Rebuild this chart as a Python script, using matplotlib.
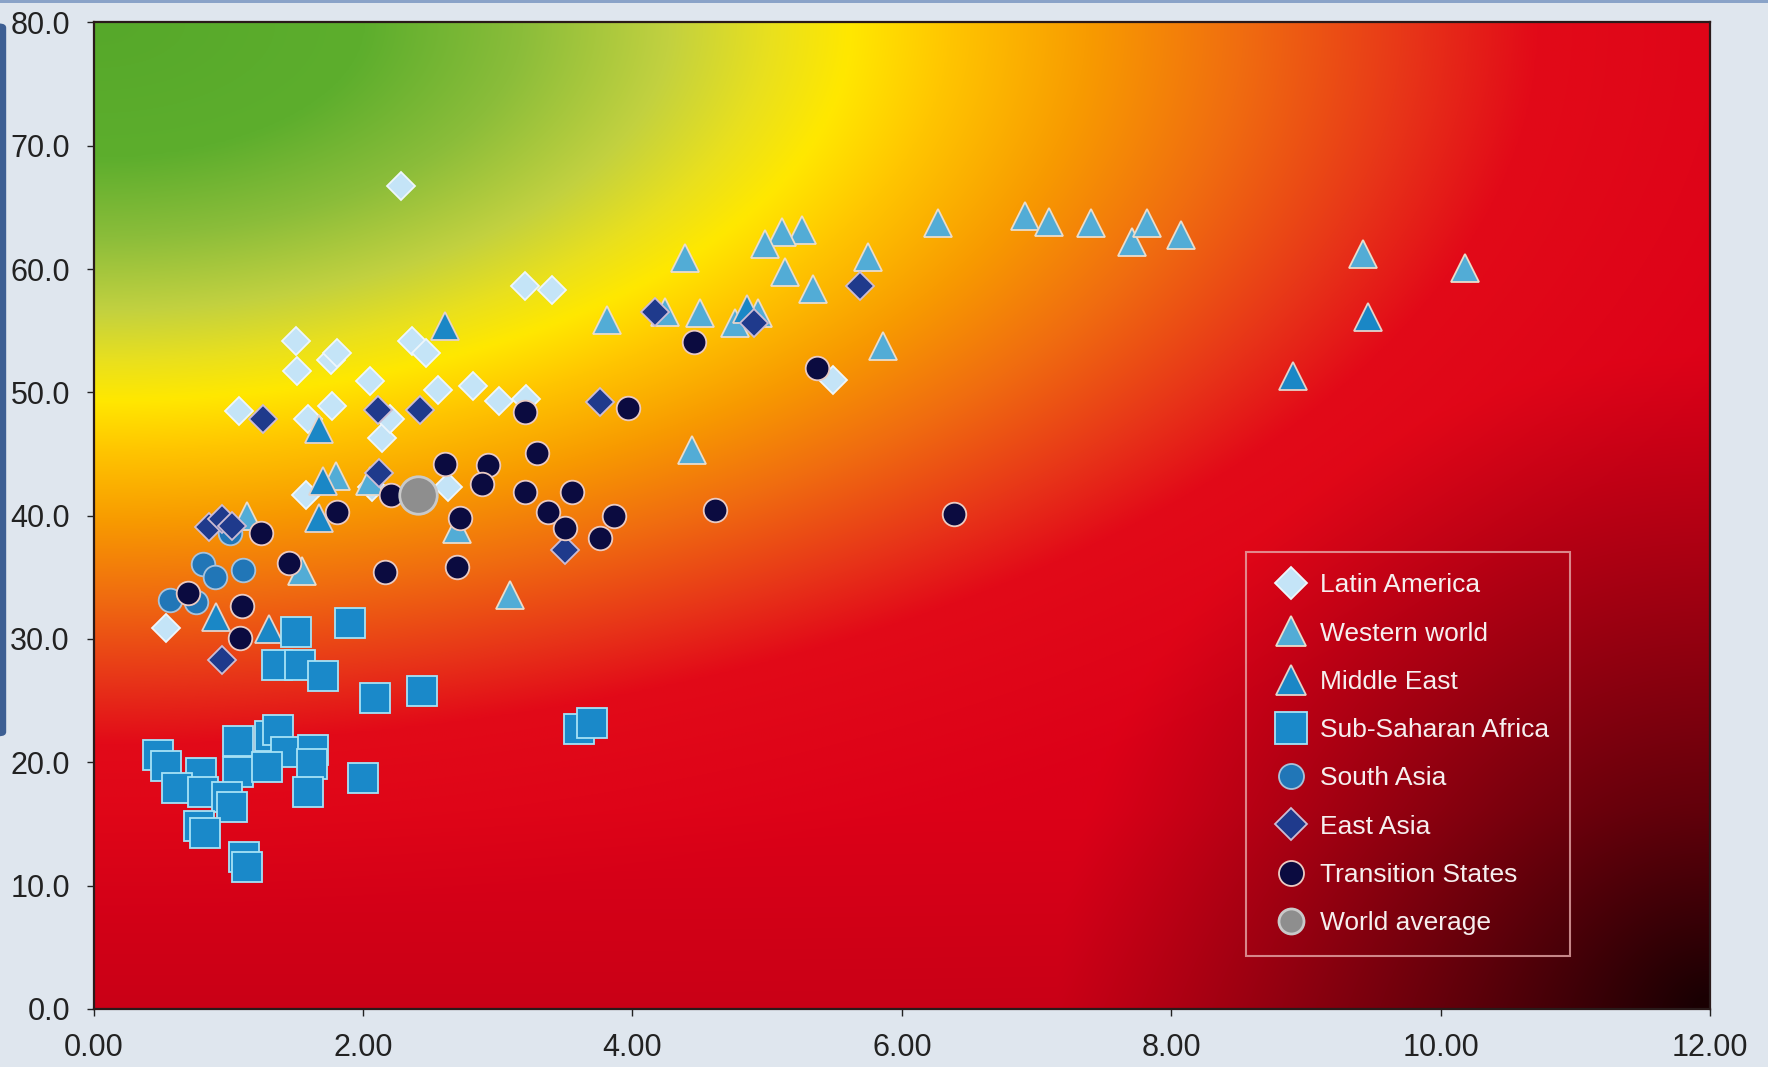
import numpy as np
import matplotlib
matplotlib.use("Agg")
import matplotlib.pyplot as plt
from matplotlib.colors import to_rgb
from matplotlib.patches import FancyBboxPatch, Rectangle

plt.rcParams['font.family'] = ['Liberation Sans', 'DejaVu Sans']

# ---- data ----
latin_x = [0.54, 1.08, 1.50, 1.51, 1.76, 1.81, 1.77, 1.59, 2.05, 2.14, 2.28, 2.36,
           2.47, 2.56, 2.82, 3.01, 3.21, 3.20, 3.40, 1.58, 2.20, 2.07, 2.63, 5.49]
latin_y = [30.9, 48.5, 54.2, 51.7, 52.6, 53.2, 48.9, 47.8, 50.9, 46.3, 66.7, 54.2,
           53.2, 50.2, 50.5, 49.3, 49.5, 58.6, 58.3, 41.7, 47.8, 42.3, 42.3, 51.0]

western_x = [6.27, 6.91, 7.09, 7.40, 7.71, 7.82, 8.07, 9.42, 10.18, 5.75, 5.26, 5.11,
             4.98, 5.13, 5.34, 5.86, 4.39, 3.81, 4.24, 4.50, 4.76, 4.93, 4.44, 1.80,
             2.05, 2.70, 1.55, 1.14, 3.09]
western_y = [63.7, 64.3, 63.8, 63.7, 62.2, 63.7, 62.8, 61.2, 60.1, 61.0, 63.2, 63.0,
             62.0, 59.8, 58.4, 53.8, 60.9, 55.9, 56.5, 56.4, 55.6, 56.4, 45.3, 43.2,
             42.8, 38.9, 35.5, 40.0, 33.6]

mideast_x = [2.61, 1.67, 1.70, 1.67, 0.91, 1.30, 8.90, 9.46, 4.85]
mideast_y = [55.4, 47.0, 42.8, 39.8, 31.8, 30.8, 51.3, 56.1, 56.8]

africa_x = [1.50, 1.90, 1.36, 1.53, 1.70, 2.09, 2.44, 0.48, 0.54, 0.80, 0.62, 1.07,
            1.31, 1.37, 1.43, 1.07, 1.29, 1.63, 1.62, 1.59, 2.00, 0.81, 0.99, 1.03,
            0.78, 0.83, 1.12, 1.14, 3.60, 3.70]
africa_y = [30.6, 31.3, 27.9, 27.9, 27.0, 25.2, 25.8, 20.6, 19.7, 19.1, 17.9, 21.7,
            22.1, 22.6, 20.8, 19.2, 19.6, 21.0, 19.9, 17.6, 18.7, 17.6, 17.2, 16.4,
            14.8, 14.3, 12.3, 11.5, 22.7, 23.2]

southasia_x = [0.81, 0.90, 1.11, 0.57, 0.76, 1.01]
southasia_y = [36.1, 35.0, 35.6, 33.2, 33.0, 38.6]

eastasia_x = [1.26, 2.11, 2.42, 2.12, 4.17, 4.90, 5.69, 3.76, 3.50, 0.86, 0.95, 1.03, 0.95]
eastasia_y = [47.8, 48.6, 48.6, 43.5, 56.5, 55.6, 58.6, 49.2, 37.2, 39.1, 39.7, 39.2, 28.3]

transition_x = [2.61, 2.93, 2.88, 2.21, 1.81, 2.72, 1.24, 1.45, 2.16, 2.70, 0.70, 1.10,
                1.09, 4.46, 5.37, 3.20, 3.97, 3.29, 3.20, 3.55, 3.37, 3.86, 3.50, 3.76,
                4.61, 6.39]
transition_y = [44.2, 44.1, 42.6, 41.7, 40.3, 39.8, 38.6, 36.2, 35.4, 35.8, 33.7, 32.7,
                30.1, 54.1, 52.0, 48.4, 48.7, 45.1, 41.9, 41.9, 40.3, 40.0, 39.0, 38.2,
                40.5, 40.1]

world_x = [2.41]
world_y = [41.7]

# ---- figure ----
fig = plt.figure(figsize=(17.68, 10.67), dpi=100, facecolor='#dfe6ee')
ax = fig.add_axes([0.0529, 0.0544, 0.9145, 0.9246])

# page decorations
fig.patches.append(FancyBboxPatch((-0.004, 0.31), 0.0075, 0.668, boxstyle="round,pad=0,rounding_size=0.004",
                                  transform=fig.transFigure, facecolor='#3d5f93', edgecolor='none'))
fig.patches.append(Rectangle((0, 0.997), 1, 0.003, transform=fig.transFigure,
                             facecolor='#8aa3c8', edgecolor='none'))

# background gradient (elliptic around top-left corner, dark toward bottom-right)
W, H = 1434.0, 875.0
nx, ny = 600, 400
gx = np.linspace(0, 1, nx)
gy = np.linspace(0, 1, ny)          # 0 = top
GX, GY = np.meshgrid(gx, gy)
t = np.sqrt((GX * W / 2.0) ** 2 + (GY * H) ** 2)
stops = [0, 120, 190, 255, 300, 335, 380, 440, 510, 580, 640, 800, 1500]
cols = ['#56a82a', '#5dae2d', '#8bbd3a', '#c2d140', '#e9e01e', '#ffe800', '#ffc500',
        '#f89c00', '#f06c10', '#e83818', '#e20a18', '#dc0018', '#d60018']
rgb_stops = np.array([to_rgb(c) for c in cols])
img = np.zeros((ny, nx, 3))
for k in range(3):
    img[..., k] = np.interp(t, stops, rgb_stops[:, k])
d = np.sqrt(((1 - GX) * W) ** 2 + ((1 - GY) * H) ** 2)
dark = 0.82 * np.clip(1 - d / 580.0, 0, 1) ** 1.1
dark += 0.08 * np.clip((GY - 0.8) / 0.2, 0, 1)
img *= (1 - np.clip(dark, 0, 0.88))[..., None]
ax.imshow(img, extent=[0, 12, 0, 80], aspect='auto', origin='upper', zorder=0,
          interpolation='bilinear')

ew = 1.3
ax.plot(latin_x, latin_y, 'D', ms=14.5, mfc='#c4e4f7', mec='#eef6fb', mew=ew,
        ls='none', label='Latin America')
ax.plot(western_x, western_y, '^', ms=20, mfc='#52acd6', mec='#eadccb', mew=ew,
        ls='none', label='Western world')
ax.plot(mideast_x, mideast_y, '^', ms=20, mfc='#1a87c6', mec='#e3d3cb', mew=ew,
        ls='none', label='Middle East')
ax.plot(africa_x, africa_y, 's', ms=22, mfc='#1a89c9', mec='#a6e2f6', mew=ew,
        ls='none', label='Sub-Saharan Africa')
ax.plot(southasia_x, southasia_y, 'o', ms=17, mfc='#2176b7', mec='#a9c2da', mew=ew,
        ls='none', label='South Asia')
ax.plot(eastasia_x, eastasia_y, 'D', ms=14.5, mfc='#1f3a8c', mec='#cdbcd3', mew=ew,
        ls='none', label='East Asia')
ax.plot(transition_x, transition_y, 'o', ms=17, mfc='#0b0b40', mec='#ebcbc3', mew=ew,
        ls='none', label='Transition States')
ax.plot(world_x, world_y, 'o', ms=27, mfc='#8e8e8e', mec='#c9c9c9', mew=2,
        ls='none', label='World average')

ax.set_xlim(0, 12)
ax.set_ylim(0, 80)
ax.set_xticks(np.arange(0, 12.1, 2))
ax.set_yticks(np.arange(0, 80.1, 10))
ax.xaxis.set_major_formatter(matplotlib.ticker.FormatStrFormatter('%.2f'))
ax.yaxis.set_major_formatter(matplotlib.ticker.FormatStrFormatter('%.1f'))
ax.tick_params(axis='both', labelsize=22, colors='#222222', length=5, width=1, pad=12)
for s in ax.spines.values():
    s.set_color('#2a1a1a')
    s.set_linewidth(1.6)

leg = ax.legend(loc='upper left', bbox_to_anchor=(0.713, 0.463), borderaxespad=0,
                fontsize=19, frameon=True, fancybox=False, numpoints=1,
                handlelength=1.8, handletextpad=0.2, labelspacing=0.92,
                borderpad=0.8)
leg.get_frame().set_facecolor('none')
leg.get_frame().set_edgecolor('#e6a9a9')
leg.get_frame().set_linewidth(1.5)
leg_sizes = [16, 21, 21, 23, 18, 16, 18, 18]
for h, sz in zip(leg.legend_handles, leg_sizes):
    h.set_markersize(sz)
for txt in leg.get_texts():
    txt.set_color('#f6efef')

fig.savefig('out.png', dpi=100, facecolor=fig.get_facecolor())
